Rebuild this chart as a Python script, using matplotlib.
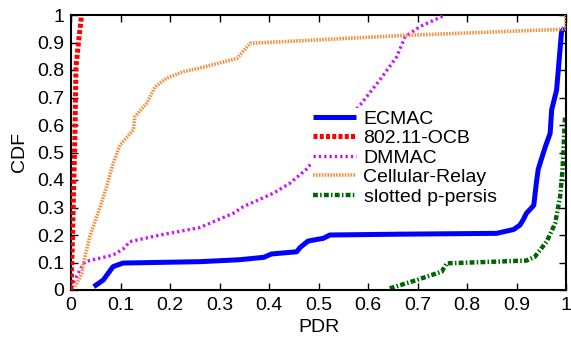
import matplotlib
matplotlib.use("Agg")
import matplotlib.pyplot as plt

plt.rcParams['font.family'] = ['Liberation Sans', 'DejaVu Sans']

# ---- data ----
ecmac_x = [0.046, 0.065, 0.085, 0.105, 0.26, 0.34, 0.39, 0.405, 0.456, 0.463, 0.479, 0.51, 0.523,
           0.665, 0.86, 0.894, 0.907, 0.914, 0.92, 0.931, 0.935, 0.94, 0.944, 0.958, 0.968, 0.971,
           0.981, 0.985, 0.991, 0.997]
ecmac_y = [0.012, 0.036, 0.085, 0.098, 0.103, 0.11, 0.119, 0.131, 0.139, 0.155, 0.178, 0.188, 0.2,
           0.203, 0.206, 0.22, 0.236, 0.257, 0.279, 0.3, 0.309, 0.388, 0.44, 0.52, 0.57, 0.655,
           0.727, 0.812, 0.94, 0.952]

ocb_x = [0.0, 0.003, 0.008, 0.01, 0.015, 0.021]
ocb_y = [0.0, 0.19, 0.57, 0.81, 0.897, 0.994]

dmmac_x = [0.0, 0.018, 0.028, 0.085, 0.106, 0.119, 0.18, 0.26, 0.328, 0.348, 0.409, 0.442, 0.476,
           0.587, 0.624, 0.658, 0.675, 0.705, 0.756]
dmmac_y = [0.01, 0.073, 0.103, 0.127, 0.15, 0.176, 0.2, 0.227, 0.279, 0.303, 0.352, 0.388, 0.44,
           0.679, 0.764, 0.848, 0.921, 0.958, 1.0]

cell_x = [0.008, 0.022, 0.025, 0.038, 0.052, 0.059, 0.072, 0.085, 0.099, 0.126, 0.129, 0.153,
          0.17, 0.193, 0.227, 0.26, 0.335, 0.362, 0.665, 0.991, 1.0, 1.0]
cell_y = [0.012, 0.06, 0.097, 0.194, 0.267, 0.303, 0.376, 0.46, 0.527, 0.582, 0.63, 0.679,
          0.739, 0.77, 0.794, 0.807, 0.842, 0.897, 0.925, 0.948, 0.95, 1.0]

slot_x = [0.644, 0.698, 0.749, 0.759, 0.92, 0.937, 0.961, 0.978, 0.988, 0.993, 0.998]
slot_y = [0.006, 0.036, 0.067, 0.097, 0.107, 0.121, 0.176, 0.242, 0.339, 0.436, 0.63]

labels = ['ECMAC', '802.11-OCB', 'DMMAC', 'Cellular-Relay', 'slotted p-persis']
xticks = [0, 0.1, 0.2, 0.3, 0.4, 0.5, 0.6, 0.7, 0.8, 0.9, 1]
yticks = [0, 0.1, 0.2, 0.3, 0.4, 0.5, 0.6, 0.7, 0.8, 0.9, 1]

FS = 14

fig = plt.figure(figsize=(5.71, 3.39), dpi=100)
ax = fig.add_axes([71/571, 1-290/339, 495/571, 275/339])

ax.plot(ecmac_x, ecmac_y, color='#0000ff', lw=3.6, solid_capstyle='butt', label=labels[0], zorder=5)
ax.plot(ocb_x, ocb_y, color='#ff0000', lw=3.6, linestyle=(0, (0.8, 0.45)), label=labels[1], zorder=4)
ax.plot(dmmac_x, dmmac_y, color='#cc11ff', lw=2.4, linestyle=(0, (0.7, 0.9)), label=labels[2], zorder=3)
ax.plot(cell_x, cell_y, color='#f39040', lw=2.6, linestyle=(0, (0.45, 0.35)), label=labels[3], zorder=6)
ax.plot(slot_x, slot_y, color='#006400', lw=3.2, linestyle=(0, (1.1, 0.5, 0.35, 0.5)), label=labels[4], zorder=2)

ax.set_xlim(0, 1)
ax.set_ylim(0, 1)
ax.set_xticks(xticks)
ax.set_yticks(yticks)
ax.set_xticklabels([f'{t:g}' for t in xticks])
ax.set_yticklabels([f'{t:g}' for t in yticks])
ax.tick_params(direction='in', length=5, width=1, top=True, right=True, labelsize=FS, pad=5)
for s in ax.spines.values():
    s.set_linewidth(1.5)

ax.set_xlabel('PDR', fontsize=FS, labelpad=4)
ax.set_ylabel('CDF', fontsize=FS, labelpad=6)

leg = ax.legend(loc='upper left', bbox_to_anchor=((311-71)/495, 1-(108-15)/275), frameon=True,
                fontsize=FS, handlelength=2.2, handletextpad=0.4, labelspacing=0.1,
                borderpad=0.1, borderaxespad=0)
leg.get_frame().set_edgecolor('none')
leg.get_frame().set_facecolor('white')
leg.get_frame().set_alpha(1)
leg.set_zorder(10)

fig.savefig('out.png', dpi=100)
